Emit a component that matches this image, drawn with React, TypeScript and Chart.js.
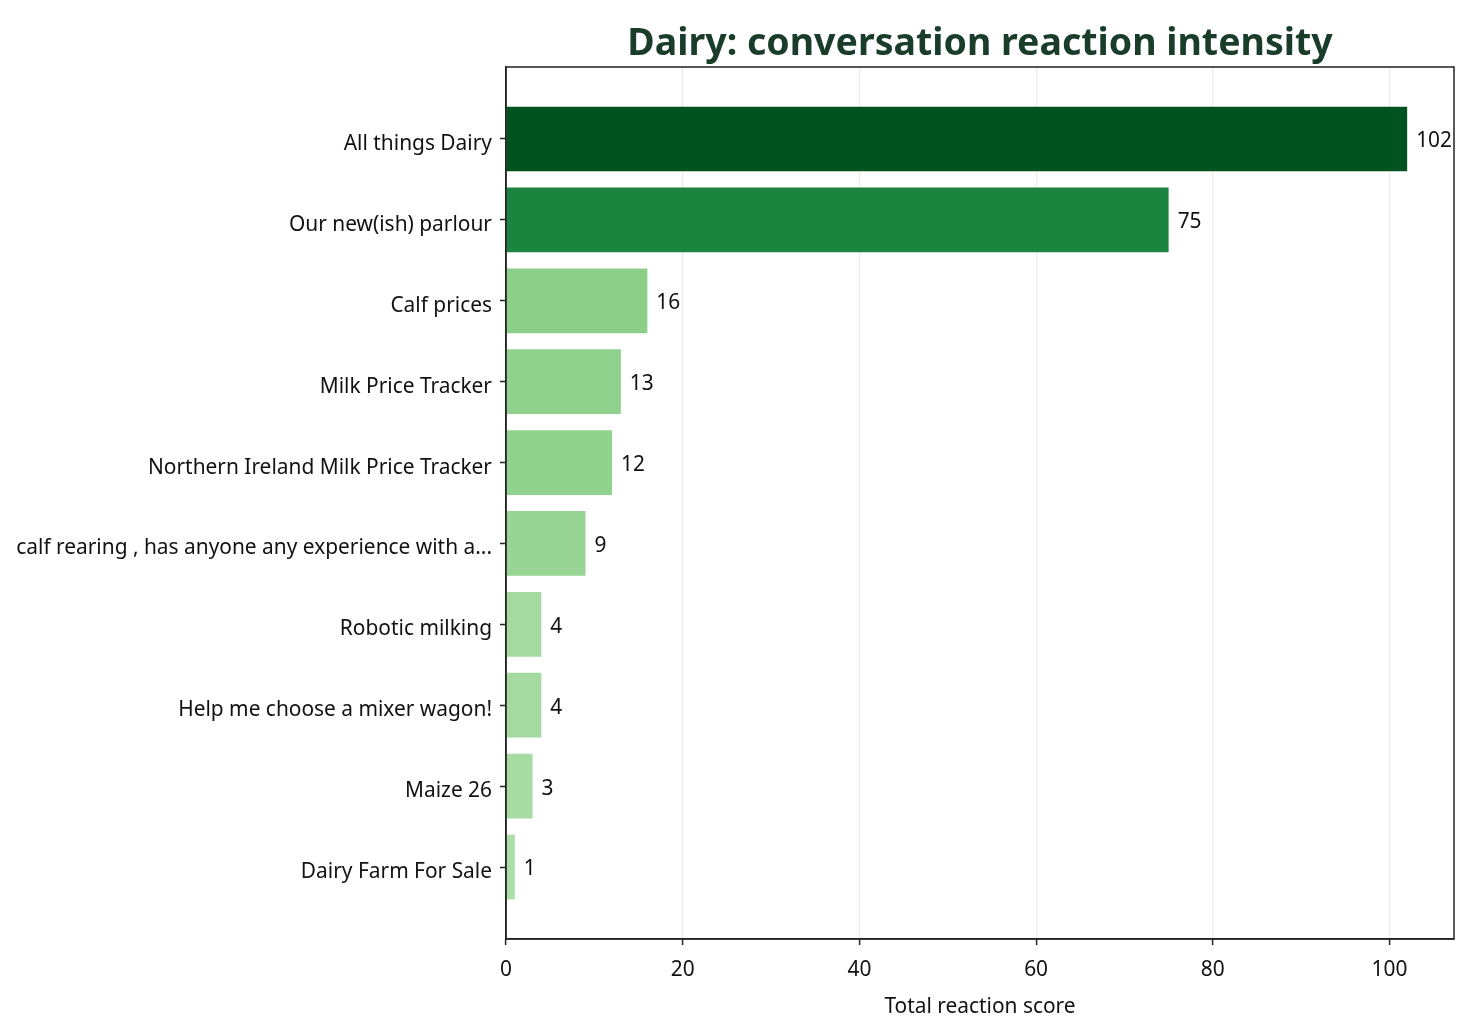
import { useRef, useEffect } from 'react';
import { Chart, registerables } from 'chart.js';

Chart.register(...registerables);

const categories = [
    'All things Dairy',
    'Our new(ish) parlour',
    'Calf prices',
    'Milk Price Tracker',
    'Northern Ireland Milk Price Tracker',
    'calf rearing , has anyone any experience with a...',
    'Robotic milking',
    'Help me choose a mixer wagon!',
    'Maize 26',
    'Dairy Farm For Sale',
];
const scores = [102, 75, 16, 13, 12, 9, 4, 4, 3, 1];
const barColors = [
    '#00531f', '#1b843f', '#8bcf89', '#90d18d', '#92d28f',
    '#98d594', '#a4daa0', '#a4daa0', '#a6dba2', '#abdda7',
];
const xTicks = [0, 20, 40, 60, 80, 100];

const FONT = "'Noto Sans', sans-serif";
const AXIS = '#222222';
const TXT = 20.9;

export default function App() {
    const chartRef = useRef<HTMLCanvasElement>(null);

    useEffect(() => {
        if (!chartRef.current) return;

        // value labels at the end of each bar
        const valueLabels = {
            id: 'valueLabels',
            afterDatasetsDraw(chart: any) {
                const ctx = chart.ctx;
                const meta = chart.getDatasetMeta(0);
                ctx.save();
                ctx.font = `${TXT}px ${FONT}`;
                ctx.fillStyle = '#111111';
                ctx.textBaseline = 'middle';
                ctx.textAlign = 'left';
                meta.data.forEach((bar: any, i: number) => {
                    ctx.fillText(String(scores[i]), bar.x + 9, bar.y + 2.5);
                });
                ctx.restore();
            }
        };

        // box around the plot + title centred over the plot
        const frameAndTitle = {
            id: 'frameAndTitle',
            afterDraw(chart: any) {
                const { ctx, chartArea } = chart;
                ctx.save();
                ctx.strokeStyle = AXIS;
                ctx.lineWidth = 1.5;
                ctx.strokeRect(chartArea.left, chartArea.top, chartArea.right - chartArea.left, chartArea.bottom - chartArea.top);
                ctx.font = `bold 37.5px ${FONT}`;
                ctx.fillStyle = '#1a3d2b';
                ctx.textAlign = 'center';
                ctx.textBaseline = 'middle';
                ctx.fillText('Dairy: conversation reaction intensity', (chartArea.left + chartArea.right) / 2, 44);
                ctx.restore();
            }
        };

        const chart = new Chart(chartRef.current, {
            type: 'bar',
            data: {
                datasets: [{
                    data: scores.map((v, i) => ({ x: v, y: i })),
                    backgroundColor: barColors,
                    borderWidth: 0,
                    categoryPercentage: 0.8,
                    barPercentage: 1,
                }]
            },
            options: {
                indexAxis: 'y',
                animation: false,
                responsive: true,
                maintainAspectRatio: false,
                layout: { padding: { top: 67, right: 14, left: 0, bottom: 0 } },
                plugins: {
                    legend: { display: false },
                    tooltip: { enabled: false },
                },
                scales: {
                    x: {
                        type: 'linear',
                        min: 0,
                        max: 107.3,
                        z: 1,
                        afterFit: (scale: any) => { scale.height = 96; },
                        afterBuildTicks: (scale: any) => { scale.ticks = xTicks.map(v => ({ value: v })); },
                        ticks: {
                            font: { family: FONT, size: TXT },
                            color: '#111111',
                            padding: 13,
                        },
                        grid: {
                            color: 'rgba(176,176,176,0.25)',
                            lineWidth: 1.2,
                            tickColor: AXIS,
                            tickLength: 6,
                            tickWidth: 1.5,
                        },
                        border: { display: true, color: AXIS, width: 1.5 },
                        title: {
                            display: true,
                            text: 'Total reaction score',
                            font: { family: FONT, size: TXT },
                            color: '#111111',
                            padding: { top: 4, bottom: 15 },
                        },
                    },
                    y: {
                        type: 'linear',
                        min: -0.89,
                        max: 9.89,
                        reverse: true,
                        offset: false,
                        afterFit: (scale: any) => { scale.width = 506; },
                        afterBuildTicks: (scale: any) => { scale.ticks = categories.map((_, i) => ({ value: i })); },
                        ticks: {
                            font: { family: FONT, size: TXT },
                            color: '#111111',
                            padding: 8,
                            labelOffset: 5,
                            callback: (value: any) => categories[Math.round(Number(value))],
                        },
                        grid: {
                            offset: false,
                            drawOnChartArea: false,
                            drawTicks: true,
                            tickColor: AXIS,
                            tickLength: 6,
                            tickWidth: 1.5,
                        },
                        border: { display: true, color: AXIS, width: 1.5 },
                    },
                },
            },
            plugins: [valueLabels, frameAndTitle],
        } as any);

        return () => {
            chart.destroy();
        };
    }, []);

    return (
        <div style={{ position: 'absolute', left: 0, top: 0, width: 1468, height: 1035, background: '#ffffff' }}>
            <canvas ref={chartRef}></canvas>
        </div>
    );
}
